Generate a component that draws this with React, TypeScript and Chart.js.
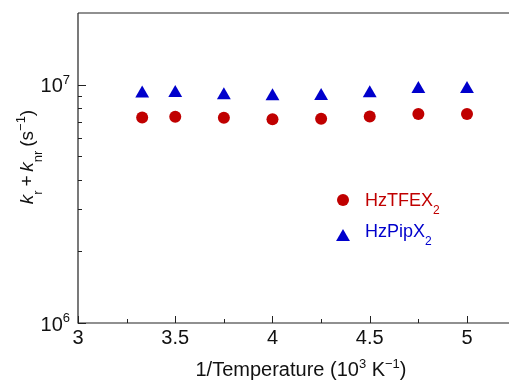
import React, { useEffect, useRef } from "react";
import { Chart, registerables } from "chart.js";

Chart.register(...registerables);

const invTemperature = [3.33, 3.5, 3.75, 4.0, 4.25, 4.5, 4.75, 5.0];
const hzTFEX2 = [7.29e6, 7.34e6, 7.26e6, 7.17e6, 7.2e6, 7.36e6, 7.53e6, 7.53e6];
const hzPipX2 = [9.18e6, 9.23e6, 9.03e6, 8.95e6, 8.97e6, 9.21e6, 9.6e6, 9.6e6];
const xTickValues = [3, 3.5, 4, 4.5, 5];
const xTickLabels = ["3", "3.5", "4", "4.5", "5"];
const xMinorTicks = [3.25, 3.75, 4.25, 4.75];
const yMajorTicks = [1e6, 1e7];
const yMajorExponents = ["6", "7"];
const yMinorTicks = [2e6, 3e6, 4e6, 5e6, 6e6, 7e6, 8e6, 9e6];

const RED = "#c00000";
const BLUE = "#0000cc";
const FONT = "'Liberation Sans', Arial, Helvetica, sans-serif";

type Seg = { t: string; italic?: boolean; sub?: boolean; sup?: boolean };

function segFont(s: Seg, size: number) {
  const sz = s.sub || s.sup ? Math.round(size * 0.66) : size;
  return `${s.italic ? "italic " : ""}${sz}px ${FONT}`;
}

function richWidth(ctx: CanvasRenderingContext2D, segs: Seg[], size: number) {
  let w = 0;
  for (const s of segs) {
    ctx.font = segFont(s, size);
    w += ctx.measureText(s.t).width;
  }
  return w;
}

function drawRich(
  ctx: CanvasRenderingContext2D,
  segs: Seg[],
  x: number,
  y: number,
  size: number,
  align: "left" | "center" | "right",
  color: string
) {
  const w = richWidth(ctx, segs, size);
  let cx = align === "left" ? x : align === "center" ? x - w / 2 : x - w;
  ctx.fillStyle = color;
  ctx.textAlign = "left";
  ctx.textBaseline = "alphabetic";
  for (const s of segs) {
    ctx.font = segFont(s, size);
    const dy = s.sub ? size * 0.45 : s.sup ? -size * 0.42 : 0;
    ctx.fillText(s.t, cx, y + dy);
    cx += ctx.measureText(s.t).width;
  }
}

const decorPlugin = {
  id: "decor",
  afterDraw(chart: any) {
    const ctx: CanvasRenderingContext2D = chart.ctx;
    const { left, right, top, bottom } = chart.chartArea;
    const xs = chart.scales.x;
    const ys = chart.scales.y;
    ctx.save();
    ctx.strokeStyle = "#222";
    ctx.lineWidth = 1.2;
    ctx.beginPath();
    ctx.moveTo(left, top);
    ctx.lineTo(right, top);
    ctx.moveTo(left, top);
    ctx.lineTo(left, bottom);
    ctx.lineTo(right, bottom);
    ctx.stroke();

    ctx.lineWidth = 1;
    ctx.beginPath();
    for (const v of xTickValues) {
      const px = Math.round(xs.getPixelForValue(v)) + 0.5;
      ctx.moveTo(px, bottom);
      ctx.lineTo(px, bottom - 7);
    }
    for (const v of xMinorTicks) {
      const px = Math.round(xs.getPixelForValue(v)) + 0.5;
      ctx.moveTo(px, bottom);
      ctx.lineTo(px, bottom - 4);
    }
    for (const v of yMajorTicks) {
      const py = Math.round(ys.getPixelForValue(v)) + 0.5;
      ctx.moveTo(left, py);
      ctx.lineTo(left + 8, py);
    }
    for (const v of yMinorTicks) {
      const py = Math.round(ys.getPixelForValue(v)) + 0.5;
      ctx.moveTo(left, py);
      ctx.lineTo(left + 4, py);
    }
    ctx.stroke();

    const size = 20;
    xTickValues.forEach((v, i) => {
      drawRich(ctx, [{ t: xTickLabels[i] }], xs.getPixelForValue(v), bottom + 21, size, "center", "#111");
    });
    yMajorTicks.forEach((v, i) => {
      const py = ys.getPixelForValue(v);
      drawRich(ctx, [{ t: "10" }, { t: yMajorExponents[i], sup: true }], left - 8, py + 7.5, size, "right", "#111");
    });

    drawRich(
      ctx,
      [{ t: "1/Temperature (10" }, { t: "3", sup: true }, { t: " K" }, { t: "\u22121", sup: true }, { t: ")" }],
      301,
      376,
      size,
      "center",
      "#111"
    );

    ctx.save();
    ctx.translate(33, 157);
    ctx.rotate(-Math.PI / 2);
    drawRich(
      ctx,
      [
        { t: "k", italic: true },
        { t: "r", sub: true },
        { t: "\u2009+\u2009" },
        { t: "k", italic: true },
        { t: "nr", sub: true },
        { t: "\u2009(s" },
        { t: "\u22121", sup: true },
        { t: ")" },
      ],
      0,
      0,
      19,
      "center",
      "#111"
    );
    ctx.restore();

    // legend
    ctx.fillStyle = RED;
    ctx.beginPath();
    ctx.arc(343, 200, 6, 0, Math.PI * 2);
    ctx.fill();
    drawRich(ctx, [{ t: "HzTFEX" }, { t: "2", sub: true }], 365, 206, 18, "left", RED);
    ctx.fillStyle = BLUE;
    ctx.beginPath();
    const r = 8;
    const cy = 237;
    ctx.moveTo(343, cy - r);
    ctx.lineTo(343 + r * 0.866, cy + r / 2);
    ctx.lineTo(343 - r * 0.866, cy + r / 2);
    ctx.closePath();
    ctx.fill();
    drawRich(ctx, [{ t: "HzPipX" }, { t: "2", sub: true }], 365, 237, 18, "left", BLUE);
    ctx.restore();
  },
};

export default function App() {
  const ref = useRef<HTMLCanvasElement | null>(null);
  useEffect(() => {
    document.body.style.margin = "0";
    const canvas = ref.current!;
    const chart = new Chart(canvas, {
      type: "scatter",
      data: {
        datasets: [
          {
            label: "HzTFEX2",
            data: invTemperature.map((x, i) => ({ x, y: hzTFEX2[i] })),
            backgroundColor: RED,
            borderColor: RED,
            pointStyle: "circle",
            pointRadius: 6,
            borderWidth: 0,
          },
          {
            label: "HzPipX2",
            data: invTemperature.map((x, i) => ({ x, y: hzPipX2[i] })),
            backgroundColor: BLUE,
            borderColor: BLUE,
            pointStyle: "triangle",
            pointRadius: 8,
            borderWidth: 0,
          },
        ],
      },
      options: {
        animation: false,
        responsive: false,
        devicePixelRatio: 1,
        layout: { autoPadding: false, padding: { top: 13, right: 0, left: 0, bottom: 0 } },
        plugins: { legend: { display: false }, tooltip: { enabled: false } },
        scales: {
          x: {
            type: "linear",
            min: 3,
            max: 5.216,
            ticks: { display: false },
            grid: { display: false },
            border: { display: false },
            afterFit: (s: any) => {
              s.height = 381 - 323;
            },
          },
          y: {
            type: "logarithmic",
            min: 1e6,
            max: 2e7,
            ticks: { display: false },
            grid: { display: false },
            border: { display: false },
            afterFit: (s: any) => {
              s.width = 78;
            },
          },
        },
      },
      plugins: [decorPlugin],
    } as any);
    return () => chart.destroy();
  }, []);
  return (
    <div style={{ width: 509, height: 381 }}>
      <canvas ref={ref} width={509} height={381} style={{ display: "block" }} />
    </div>
  );
}
